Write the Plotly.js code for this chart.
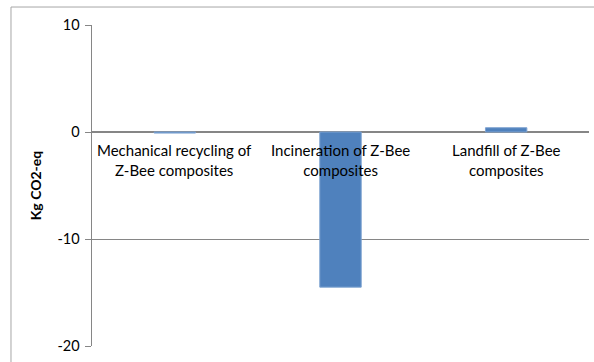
<!DOCTYPE html>
<html>
<head>
<meta charset="utf-8">
<script src="https://cdn.plot.ly/plotly-3.0.1.min.js"></script>
<style>
html,body{margin:0;padding:0;background:#fff;}
#chart{width:594px;height:362px;}
</style>
</head>
<body>
<div id="chart"></div>
<script>
var categories = ["Mechanical recycling of<br>Z-Bee composites", "Incineration of Z-Bee<br>composites", "Landfill of Z-Bee<br>composites"];
var values = [-0.1, -14.5, 0.4];
var yTicks = [10, 0, -10, -20];
var yTickLabels = ["10", "0", "-10", "-20"];
var yTitle = "Kg CO2-eq";

var font = "Lato, 'Open Sans', 'Liberation Sans', sans-serif";

var trace = {
  type: "bar",
  x: [0, 1, 2],
  y: values,
  width: 0.25,
  marker: {color: "#4F81BD", line: {color: "#7FA3D1", width: 1}},
  hoverinfo: "none"
};

var annotations = categories.map(function(c, i){
  return {
    x: i, y: 0, xref: "x", yref: "y",
    text: c, showarrow: false,
    yanchor: "top", xanchor: "center",
    yshift: -7,
    font: {family: font, size: 15, color: "#000"},
    align: "center"
  };
});

var layout = {
  width: 594, height: 362,
  margin: {l: 92, r: 5, t: 25, b: 16},
  paper_bgcolor: "#fff",
  plot_bgcolor: "#fff",
  showlegend: false,
  xaxis: {
    range: [-0.5, 2.5],
    showticklabels: false,
    showgrid: false,
    zeroline: false,
    showline: false,
    ticks: ""
  },
  yaxis: {
    range: [-20, 10],
    tickvals: yTicks,
    ticktext: yTickLabels,
    tickfont: {family: font, size: 14.5, color: "#000"},
    showgrid: true,
    gridcolor: "#868686",
    gridwidth: 1,
    zeroline: true,
    zerolinecolor: "#868686",
    zerolinewidth: 1.5,
    showline: true,
    linecolor: "#868686",
    linewidth: 1.5,
    ticks: "outside",
    ticklen: 6,
    tickcolor: "#868686",
    ticklabelstandoff: 2,
    title: {text: "<b>" + yTitle + "</b>", font: {family: font, size: 14, color: "#000"}, standoff: 12}
  },
  annotations: annotations,
  shapes: [{
    type: "rect", xref: "paper", yref: "paper",
    x0: -0.163, x1: 1.05, y0: -0.2, y1: 1.056,
    line: {color: "#A6A6A6", width: 1},
    layer: "below"
  }]
};

Plotly.newPlot("chart", [trace], layout, {displayModeBar: false, staticPlot: true});
</script>
</body>
</html>
